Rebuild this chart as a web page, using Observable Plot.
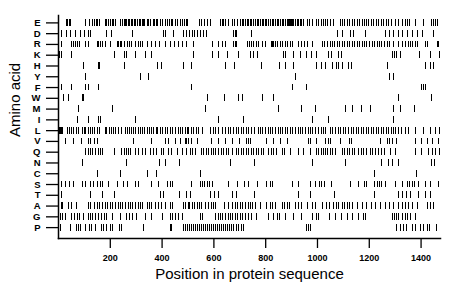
<!DOCTYPE html>
<html><head><meta charset="utf-8">
<script src="https://cdn.jsdelivr.net/npm/d3@7"></script>
<script src="https://cdn.jsdelivr.net/npm/@observablehq/plot@0.6"></script>
<style>body{margin:0;background:#fff}</style>
</head><body><div id="chart"></div>
<script>
const aminoAcids = ["E","D","R","K","H","Y","F","W","M","I","L","V","Q","N","C","S","T","A","G","P"];
const xTicks = [200,400,600,800,1000,1200,1400];
const xTitle = "Position in protein sequence";
const yTitle = "Amino acid";

const posE = [32,36,43,47,106,119,130,140,148,151,160,181,185,194,202,207,211,214,222,239,249,254,258,263,271,275,280,284,292,297,306,311,316,323,328,333,342,348,356,365,371,378,384,393,402,413,420,428,436,441,451,459,471,477,487,493,500,544,552,565,574,587,625,632,638,644,655,670,680,693,702,709,715,722,728,735,741,747,754,760,767,773,780,786,792,799,805,812,818,825,831,837,844,850,857,863,870,876,878,883,886,889,893,895,899,902,905,908,915,921,928,934,940,947,960,969,979,996,1005,1014,1023,1031,1040,1050,1063,1089,1098,1105,1114,1123,1134,1143,1153,1162,1172,1181,1189,1198,1207,1217,1226,1237,1247,1256,1266,1275,1285,1301,1311,1329,1339,1346,1355,1378,1410,1442,1449,1455,1462];
const posD = [11,29,48,65,85,101,117,123,187,203,287,406,413,445,483,496,505,516,525,535,548,561,570,677,683,689,747,1076,1095,1127,1140,1185,1262,1278,1294,1311,1329,1346,1365,1385,1404,1449];
const posR = [11,52,59,65,72,81,106,114,149,155,163,171,181,200,226,233,239,245,253,265,274,281,297,307,316,325,342,361,374,390,413,432,449,464,480,496,522,593,619,632,644,677,683,689,728,737,745,754,763,773,786,799,822,827,832,837,844,857,866,876,886,895,904,928,940,951,960,979,1018,1028,1037,1050,1059,1067,1076,1085,1095,1105,1114,1123,1134,1144,1153,1162,1172,1182,1191,1200,1211,1221,1230,1239,1249,1260,1269,1278,1294,1314,1329,1339,1350,1359,1368,1378,1385,1417,1423,1462,1468];
const posK = [3,11,52,217,256,262,297,335,361,522,593,619,651,696,741,754,767,870,876,908,934,956,976,998,1043,1054,1080,1092,1288,1296,1307,1320,1394,1436,1471];
const posH = [97,153,157,256,384,397,483,513,644,680,783,853,876,908,998,1015,1031,1059,1072,1082,1095,1118,1131,1269,1419,1436,1449];
const posY = [106,316,348,915,1278,1294];
const posF = [11,52,104,117,155,513,904,956,1401,1410,1419];
const posW = [20,39,91,97,574,642,696,709,789,831,1314,1442];
const posM = [78,207,567,848,938,992,1108,1136,1170,1204,1294,1320,1376];
const posI = [72,117,155,164,297,616,715,979,1041,1294];
const posL = [2,6,10,14,33,42,52,59,68,76,91,99,106,114,122,130,140,149,158,181,187,196,204,213,222,233,243,258,266,274,281,290,299,307,316,325,333,342,351,359,368,377,384,393,402,413,420,432,441,451,462,471,480,490,500,503,512,522,531,541,557,587,599,608,619,634,644,655,664,677,686,696,706,715,724,735,747,758,771,780,789,799,809,818,827,837,848,857,866,876,886,895,904,915,925,934,943,953,964,973,982,992,1002,1005,1014,1023,1031,1050,1059,1069,1080,1089,1101,1110,1121,1131,1140,1149,1159,1170,1179,1188,1198,1208,1217,1226,1237,1247,1256,1265,1275,1285,1294,1303,1314,1324,1339,1350,1378,1410,1436,1455,1472];
const posV = [27,59,88,114,123,140,149,290,361,413,426,451,471,490,494,503,513,535,590,619,644,673,698,724,732,741,805,831,857,883,964,973,998,1031,1041,1050,1089,1123,1131,1243,1269,1278,1288,1307,1378,1401,1423,1445,1466];
const posQ = [106,114,123,132,142,153,162,168,217,245,253,261,269,278,297,307,325,335,355,368,377,397,406,426,438,458,477,496,509,518,529,552,561,570,580,590,599,608,619,629,638,647,657,670,686,696,706,715,724,735,745,754,763,773,783,792,812,822,831,840,863,874,895,928,947,973,996,1005,1014,1023,1031,1040,1050,1059,1069,1095,1105,1114,1123,1134,1144,1159,1170,1179,1188,1204,1213,1224,1234,1249,1260,1282,1301,1378,1401,1427,1445,1455,1471];
const posN = [94,261,390,413,467,664,758,979,1108,1247,1273,1291,1311,1442,1453];
const posC = [149,239,342,377,548,1221,1381];
const posS = [11,27,42,59,91,106,123,136,149,162,171,194,226,252,265,297,310,361,387,419,432,441,513,548,557,565,574,583,593,655,693,719,732,767,805,818,827,902,928,973,992,1007,1015,1028,1056,1127,1159,1182,1191,1221,1230,1239,1249,1262,1301,1329,1346,1355,1365,1376,1391,1417,1436,1468];
const posT = [11,123,168,217,393,406,467,496,509,587,603,619,673,689,758,928,973,1067,1221,1311,1329,1342,1359,1391,1417,1436];
const posA = [11,16,37,52,68,114,123,140,149,158,168,181,191,200,209,220,230,239,248,258,269,278,287,297,307,316,325,342,351,361,374,387,397,413,432,441,483,492,503,505,516,526,535,544,554,567,580,590,599,608,642,657,673,683,693,702,711,722,732,741,750,760,780,805,818,827,837,863,874,883,892,915,928,940,960,979,992,1018,1033,1046,1063,1072,1082,1095,1105,1114,1123,1134,1153,1175,1191,1208,1224,1243,1262,1278,1294,1311,1329,1339,1350,1368,1385,1423,1436,1449];
const posG = [1,7,16,27,52,63,72,81,97,114,123,132,142,153,166,178,187,207,239,261,274,284,303,335,361,400,432,441,451,462,477,548,557,606,616,625,634,644,655,664,673,683,693,702,711,722,732,745,763,812,831,844,853,876,908,940,979,998,1005,1046,1069,1092,1114,1136,1157,1179,1185,1288,1297,1306,1314,1329,1339,1348,1359,1378];
const posP = [9,45,68,76,84,104,120,129,142,166,175,184,200,209,236,245,329,432,438,483,490,498,505,513,521,529,536,544,552,560,567,575,583,590,598,606,614,621,629,637,644,652,660,668,677,686,696,708,715,959,966,974,1304,1320,1333,1345,1368,1378,1397,1410,1423,1433,1461];

const rows = {E:posE,D:posD,R:posR,K:posK,H:posH,Y:posY,F:posF,W:posW,M:posM,I:posI,L:posL,V:posV,Q:posQ,N:posN,C:posC,S:posS,T:posT,A:posA,G:posG,P:posP};
const data = aminoAcids.flatMap(aa => rows[aa].map(pos => ({aa, pos})));

const chart = Plot.plot({
  width: 460, height: 299,
  marginLeft: 58, marginRight: 20, marginTop: 15, marginBottom: 61,
  style: {fontFamily: "'Liberation Sans', Arial, sans-serif", background: "white", color: "black"},
  x: {domain: [0, 1475]},
  y: {domain: aminoAcids, range: [17, 232.5], padding: 0, round: false},
  marks: [
    Plot.tickX(data, {x: "pos", y: "aa", stroke: "black", strokeWidth: 1, insetTop: 2, insetBottom: 2, shapeRendering: "crispEdges"}),
    Plot.frame({anchor: "left", stroke: "black", strokeWidth: 1.5}),
    Plot.frame({anchor: "bottom", stroke: "black", strokeWidth: 1.5}),
    Plot.axisY({tickSize: 12, tickPadding: 6, fontSize: 9.5, fontWeight: "bold", label: null, strokeWidth: 1.3}),
    Plot.axisX({ticks: xTicks, tickFormat: d => String(d), tickSize: 10, tickPadding: 6, fontSize: 9, fontWeight: "bold", label: null, strokeWidth: 1.3}),
    Plot.text([yTitle], {text: d => d, frameAnchor: "left", dx: -43, dy: 10, rotate: -90, fontSize: 15}),
    Plot.text([xTitle], {text: d => d, frameAnchor: "bottom", dy: 40, fontSize: 15})
  ]
});
document.getElementById("chart").append(chart);
</script>
</body></html>
